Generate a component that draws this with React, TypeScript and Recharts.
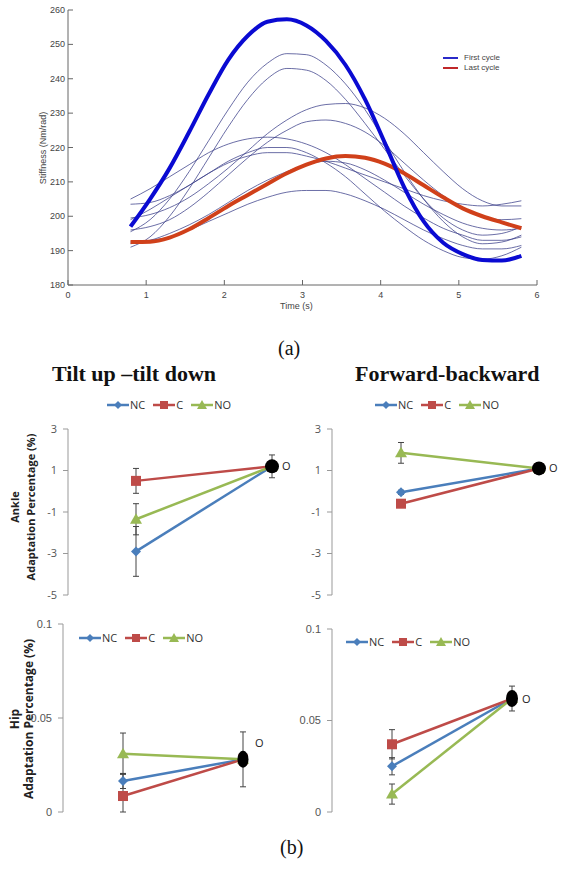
import React from "react";
import { LineChart, Line, XAxis, YAxis, ErrorBar } from "recharts";

// ---- (a) stiffness over one cycle ----
const time = [0.8, 1.05, 1.3, 1.55, 1.8, 2.05, 2.3, 2.55, 2.8, 3.05, 3.3, 3.55, 3.8, 4.05, 4.3, 4.55, 4.8, 5.05, 5.3, 5.55, 5.8];
const firstCycle = [197, 205, 214, 224.5, 235.5, 245.5, 252.5, 256.6, 257.3, 255.5, 251, 244, 234, 221.5, 208.5, 198.5, 192.3, 189, 187.3, 187.1, 188.5];
const lastCycle = [192.5, 192.6, 193.8, 196.2, 199.5, 203, 206.2, 209.4, 212.5, 215, 216.8, 217.5, 217, 215.3, 212.5, 209, 205.5, 202.3, 200, 198.2, 196.5];
const otherCycles = [
  [195.5, 199, 205, 213, 222, 231, 239, 244.5, 247.3, 247, 244, 238.5, 231, 222, 213, 205, 198.5, 194, 192, 192.5, 194.5],
  [191, 194, 200, 208, 217, 226, 234, 240, 243, 242.5, 239.5, 234, 227, 219.5, 212, 205, 199.5, 196, 194.5, 195, 197],
  [199.5, 200.5, 202.5, 205.5, 209.5, 214, 219, 224, 228, 231, 232.5, 232.8, 231.5, 228.5, 224, 218.5, 213, 208, 204.5, 203, 203],
  [196, 197, 199, 202.5, 207, 212, 217, 221.5, 225, 227.5, 228, 227, 224.5, 220.5, 215.5, 210.5, 206, 202.5, 200, 199, 199.3],
  [205, 208, 211.5, 215, 218.5, 221, 222.5, 223, 222.5, 221, 218.5, 215, 211, 207, 203, 199.5, 196.5, 194.5, 193, 193, 194],
  [203.5, 204, 206, 209, 212.5, 216, 218.5, 220, 220, 218.5, 215.5, 211.5, 206.5, 201.5, 197, 193, 190, 188, 187.5, 188.5, 191],
  [192, 193, 195, 197.5, 200.5, 204, 207.5, 210.5, 213, 215, 216, 215.5, 213.5, 210.5, 207, 203.5, 200.5, 198, 196.5, 196, 196.5],
  [192.5, 193, 194, 196, 198.5, 201, 203.5, 205.5, 207, 207.5, 207.5, 206.5, 204.5, 202, 199, 196, 193.5, 191.5, 190.5, 190.5, 191.5],
  [199, 202, 205.5, 209, 212.5, 215.5, 217.5, 218.5, 218.5, 217.5, 216, 214, 212, 210, 208, 206, 204.5, 203.5, 203, 203.5, 204.5],
];
const stiffnessTicks = [180, 190, 200, 210, 220, 230, 240, 250, 260];
const timeTicks = [0, 1, 2, 3, 4, 5, 6];

const stiffnessRows = time.map((t, i) => {
  const row: Record<string, number> = { t, first: firstCycle[i], last: lastCycle[i] };
  otherCycles.forEach((c, k) => {
    row[`c${k}`] = c[i];
  });
  return row;
});

// ---- (b) adaptation percentages ----
const stages = ["1", "2"];
const ankleTicks = [-5, -3, -1, 1, 3];
const hipTicks = [0, 0.05, 0.1];

const ankleTilt = {
  nc: [-2.9, 1.2], ncErr: [1.2, 0.55],
  c: [0.5, 1.2], cErr: [0.6, 0],
  no: [-1.35, 1.2], noErr: [0.75, 0],
  end: [null, 1.2],
};
const ankleFwd = {
  nc: [-0.05, 1.1], ncErr: [0.1, 0],
  c: [-0.6, 1.1], cErr: [0.12, 0],
  no: [1.85, 1.1], noErr: [0.5, 0],
  end: [null, 1.1],
};
const hipTilt = {
  nc: [0.0165, 0.028], ncErr: [0.004, 0.0146],
  c: [0.0085, 0.028], cErr: [[0.0085, 0.012], 0],
  no: [0.031, 0.028], noErr: [0.011, 0],
  end: [null, 0.028],
};
const hipFwd = {
  nc: [0.025, 0.062], ncErr: [0.0047, 0.0068],
  c: [0.037, 0.062], cErr: [0.008, 0],
  no: [0.0098, 0.062], noErr: [0.0055, 0],
  end: [null, 0.062],
};

const BLUE = "#4a7ebb";
const RED = "#be4b48";
const GREEN = "#98b954";
const SANS = "'Liberation Sans', Arial, sans-serif";

const toRows = (s: any) =>
  stages.map((name, i) => ({
    name,
    nc: s.nc[i], ncErr: s.ncErr[i],
    c: s.c[i], cErr: s.cErr[i],
    no: s.no[i], noErr: s.noErr[i],
    end: s.end[i],
  }));

// ---- tick renderers for the boxed (a) plot ----
const BottomTick = (p: any) => (
  <g>
    <line x1={p.x} x2={p.x} y1={p.y} y2={p.y - 5} stroke="#666" />
    <text x={p.x} y={p.y + 13} textAnchor="middle" fontSize={9} fill="#444" fontFamily={SANS}>
      {p.payload.value}
    </text>
  </g>
);
const LeftTick = (p: any) => (
  <g>
    <line x1={p.x} x2={p.x + 5} y1={p.y} y2={p.y} stroke="#666" />
    <text x={p.x - 3} y={p.y + 3} textAnchor="end" fontSize={9} fill="#444" fontFamily={SANS}>
      {p.payload.value}
    </text>
  </g>
);
const TopTick = (p: any) => <line x1={p.x} x2={p.x} y1={p.y} y2={p.y + 5} stroke="#666" />;
const RightTick = (p: any) => <line x1={p.x} x2={p.x - 5} y1={p.y} y2={p.y} stroke="#666" />;

// ---- markers ----
const Diamond = (p: any) =>
  p.cx == null ? null : (
    <path key={p.index} d={`M${p.cx},${p.cy - 5}L${p.cx + 5},${p.cy}L${p.cx},${p.cy + 5}L${p.cx - 5},${p.cy}Z`} fill={BLUE} />
  );
const Square = (p: any) =>
  p.cx == null ? null : <rect key={p.index} x={p.cx - 5} y={p.cy - 5} width={10} height={10} fill={RED} />;
const Triangle = (p: any) =>
  p.cx == null ? null : (
    <path key={p.index} d={`M${p.cx},${p.cy - 6}L${p.cx + 6},${p.cy + 4.5}L${p.cx - 6},${p.cy + 4.5}Z`} fill={GREEN} />
  );

function VText({ x, y, children, size = 11 }: any) {
  return (
    <div
      style={{
        position: "absolute", left: x, top: y, transform: "translate(-50%,-50%) rotate(-90deg)",
        whiteSpace: "nowrap", fontFamily: "'Open Sans', sans-serif", fontWeight: 700, fontSize: size, color: "#222",
      }}
    >
      {children}
    </div>
  );
}

function LegendRow({ left, top }: any) {
  const items = [
    { name: "NC", color: BLUE, m: "d" },
    { name: "C", color: RED, m: "s" },
    { name: "NO", color: GREEN, m: "t" },
  ];
  return (
    <div style={{ position: "absolute", left, top, display: "flex", alignItems: "center", gap: 8, fontFamily: "'Liberation Sans Narrow', 'Open Sans', sans-serif", fontSize: 11, color: "#333" }}>
      {items.map((it) => (
        <div key={it.name} style={{ display: "flex", alignItems: "center" }}>
          <svg width={22} height={12}>
            <line x1={0} x2={22} y1={6} y2={6} stroke={it.color} strokeWidth={2.5} />
            {it.m === "d" && <path d="M11,2L15,6L11,10L7,6Z" fill={it.color} />}
            {it.m === "s" && <rect x={7} y={2} width={8} height={8} fill={it.color} />}
            {it.m === "t" && <path d="M11,1L16,10L6,10Z" fill={it.color} />}
          </svg>
          <span style={{ marginLeft: 1 }}>{it.name}</span>
        </div>
      ))}
    </div>
  );
}

function AdaptPanel({ series, left, top, plotW, plotH, domain, ticks, hip, dot, tickFont }: any) {
  const rows = toRows(series);
  const axisW = 40;
  const xH = hip ? 6 : 0;
  const pad = plotW / 4;
  const EndShape = (p: any) =>
    p.cx == null || p.value == null ? null : (
      <g key={p.index}>
        <ellipse cx={p.cx} cy={p.cy} rx={dot.rx} ry={dot.ry} fill="#000" />
        <text x={p.cx + dot.lx} y={p.cy + dot.ly} fontSize={11} fill="#222" fontFamily="'Open Sans', sans-serif">O</text>
      </g>
    );
  return (
    <div style={{ position: "absolute", left: left - axisW, top: top - 10 }}>
      <LineChart width={axisW + plotW} height={10 + plotH + xH + 10} data={rows} margin={{ top: 10, right: 0, bottom: 10, left: 0 }}>
        <XAxis dataKey="name" hide padding={{ left: pad, right: pad }} />
        {hip && (
          <XAxis xAxisId="frame" type="number" domain={[0, 2]} ticks={[0, 1, 2]} tick={false} tickSize={5} height={xH} axisLine={{ stroke: "#999" }} tickLine={{ stroke: "#999" }} />
        )}
        <YAxis
          width={axisW} domain={domain} ticks={ticks} interval={0} tickSize={5} tickMargin={6}
          axisLine={{ stroke: "#999" }} tickLine={{ stroke: "#999" }}
          tick={{ fontSize: 11, fill: "#555", fontFamily: tickFont }}
        />
        <Line dataKey="nc" stroke={BLUE} strokeWidth={2.5} dot={Diamond} isAnimationActive={false}>
          <ErrorBar dataKey="ncErr" width={3} stroke="#444" strokeWidth={1} />
        </Line>
        <Line dataKey="c" stroke={RED} strokeWidth={2.5} dot={Square} isAnimationActive={false}>
          <ErrorBar dataKey="cErr" width={3} stroke="#444" strokeWidth={1} />
        </Line>
        <Line dataKey="no" stroke={GREEN} strokeWidth={2.5} dot={Triangle} isAnimationActive={false}>
          <ErrorBar dataKey="noErr" width={3} stroke="#444" strokeWidth={1} />
        </Line>
        <Line dataKey="end" stroke="none" dot={EndShape} isAnimationActive={false} />
      </LineChart>
    </div>
  );
}

export default function App() {
  return (
    <div style={{ position: "absolute", left: 0, top: 0, width: 561, height: 873, overflow: "hidden", background: "#fff" }}>
      <div style={{ position: "absolute", left: 0, top: 0 }}>
        <LineChart width={561} height={320} data={stiffnessRows} margin={{ top: 10, right: 24, bottom: 0, left: 0 }}>
          <XAxis dataKey="t" type="number" domain={[0, 6]} ticks={timeTicks} height={35} tickSize={0} tickMargin={0} tickLine={false} tick={BottomTick} axisLine={{ stroke: "#666" }} />
          <XAxis xAxisId="top" orientation="top" type="number" domain={[0, 6]} ticks={timeTicks} height={0} tickSize={0} tickMargin={0} tickLine={false} tick={TopTick} axisLine={{ stroke: "#666" }} />
          <YAxis domain={[180, 260]} ticks={stiffnessTicks} width={68} tickSize={0} tickMargin={0} tickLine={false} tick={LeftTick} axisLine={{ stroke: "#666" }} />
          <YAxis yAxisId="right" orientation="right" domain={[180, 260]} ticks={stiffnessTicks} width={0} tickSize={0} tickMargin={0} tickLine={false} tick={RightTick} axisLine={{ stroke: "#666" }} />
          {otherCycles.map((_, k) => (
            <Line key={k} dataKey={`c${k}`} type="monotone" stroke="#3a3e88" strokeOpacity={0.75} strokeWidth={1} dot={false} isAnimationActive={false} />
          ))}
          <Line dataKey="last" type="monotone" stroke="#d0401a" strokeWidth={4} dot={false} isAnimationActive={false} />
          <Line dataKey="first" type="monotone" stroke="#0a0ad2" strokeWidth={4} dot={false} isAnimationActive={false} />
        </LineChart>
      </div>
      <VText x={42} y={148} size={9}>
        <span style={{ fontWeight: 400, fontFamily: SANS, color: "#444" }}>Stiffness (Nm/rad)</span>
      </VText>
      <div style={{ position: "absolute", left: 280, top: 301, fontFamily: SANS, fontSize: 9, color: "#444" }}>Time (s)</div>
      <div style={{ position: "absolute", left: 443, top: 53, fontFamily: SANS, fontSize: 8, color: "#444", lineHeight: "10px" }}>
        {[
          { name: "First cycle", color: "#2a2ac8" },
          { name: "Last cycle", color: "#c0282a" },
        ].map((it) => (
          <div key={it.name} style={{ display: "flex", alignItems: "center" }}>
            <span style={{ display: "inline-block", width: 15, height: 2, background: it.color, marginRight: 6 }} />
            {it.name}
          </div>
        ))}
      </div>

      <div style={{ position: "absolute", left: 278, top: 337, fontFamily: "'Liberation Serif', serif", fontSize: 20, color: "#111" }}>(a)</div>
      <div style={{ position: "absolute", left: 52, top: 361, fontFamily: "'Liberation Serif', serif", fontWeight: 700, fontSize: 22, color: "#111" }}>Tilt up –tilt down</div>
      <div style={{ position: "absolute", left: 355, top: 361, fontFamily: "'Liberation Serif', serif", fontWeight: 700, fontSize: 22, color: "#111" }}>Forward-backward</div>

      <LegendRow left={107} top={397} />
      <LegendRow left={375} top={397} />
      <LegendRow left={79} top={630} />
      <LegendRow left={346} top={634} />

      <VText x={14} y={507}>Ankle</VText>
      <VText x={30} y={507}>Adaptation Percentage (%)</VText>
      <VText x={14} y={719} size={12}>Hip</VText>
      <VText x={28} y={719} size={12}>Adaptation Percentage (%)</VText>

      <AdaptPanel series={ankleTilt} left={68} top={429} plotW={272} plotH={166} domain={[-5, 3]} ticks={ankleTicks}
        dot={{ rx: 7, ry: 7, lx: 10, ly: 4 }} tickFont="'Open Sans', sans-serif" />
      <AdaptPanel series={ankleFwd} left={332} top={429} plotW={276} plotH={166} domain={[-5, 3]} ticks={ankleTicks}
        dot={{ rx: 7, ry: 7, lx: 10, ly: 4 }} tickFont="'Open Sans', sans-serif" />
      <AdaptPanel series={hipTilt} left={63} top={624} plotW={240} plotH={188} domain={[0, 0.1]} ticks={hipTicks} hip
        dot={{ rx: 5.5, ry: 8.5, lx: 12, ly: -12 }} tickFont="'Liberation Sans Narrow', sans-serif" />
      <AdaptPanel series={hipFwd} left={332} top={629} plotW={240} plotH={183} domain={[0, 0.1]} ticks={hipTicks} hip
        dot={{ rx: 6, ry: 8.5, lx: 10, ly: 4 }} tickFont="'Liberation Sans Narrow', sans-serif" />

      <div style={{ position: "absolute", left: 280, top: 836, fontFamily: "'Liberation Serif', serif", fontSize: 20, color: "#111" }}>(b)</div>
    </div>
  );
}
